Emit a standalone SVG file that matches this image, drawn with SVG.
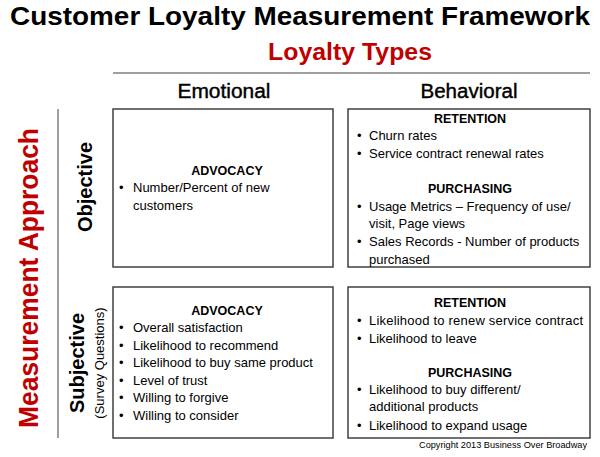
<svg xmlns="http://www.w3.org/2000/svg" width="600" height="457" viewBox="0 0 600 457">
<style>
text{font-family:"Liberation Sans",Arial,sans-serif;fill:#000}
.title{font-size:26px;font-weight:bold}
.red{fill:#c00000;font-weight:bold}
.col{font-size:20px;stroke:#000;stroke-width:0.4}
.side{font-size:20px;font-weight:bold}
.box{fill:#fff;stroke:#404040;stroke-width:1.5}
.h{font-size:12.5px;font-weight:bold;text-anchor:middle}
.t{font-size:13px}
.rule{stroke:#7f7f7f;stroke-width:1.5}
</style>
<rect width="600" height="457" fill="#fff"/>
<text class="title" x="300" y="25" text-anchor="middle" textLength="580" lengthAdjust="spacingAndGlyphs">Customer Loyalty Measurement Framework</text>
<text class="red" x="350" y="60" font-size="24" text-anchor="middle" textLength="164" lengthAdjust="spacingAndGlyphs">Loyalty Types</text>
<g id="connectors">
<line class="rule" x1="113" y1="73" x2="590" y2="73"/>
<line class="rule" x1="58" y1="109" x2="58" y2="438" stroke="#404040"/>
</g>
<text class="col" x="224" y="98" text-anchor="middle" textLength="93" lengthAdjust="spacingAndGlyphs">Emotional</text>
<text class="col" x="469" y="98" text-anchor="middle" textLength="97" lengthAdjust="spacingAndGlyphs">Behavioral</text>
<text class="red" font-size="28" transform="translate(38,278) rotate(-90)" text-anchor="middle" textLength="300" lengthAdjust="spacingAndGlyphs">Measurement Approach</text>
<text class="side" transform="translate(92,187) rotate(-90)" text-anchor="middle">Objective</text>
<text class="side" transform="translate(84,363) rotate(-90)" text-anchor="middle">Subjective</text>
<text font-size="13" transform="translate(104,363) rotate(-90)" text-anchor="middle">(Survey Questions)</text>
<g id="obj-emotional">
<rect class="box" x="113" y="109" width="220" height="158"/>
<text class="h" x="227" y="175">ADVOCACY</text>
<text class="t" x="119" y="192">•</text>
<text class="t" x="133" y="192">Number/Percent of new</text>
<text class="t" x="133" y="210">customers</text>
</g>
<g id="obj-behavioral">
<rect class="box" x="348" y="109" width="242" height="158"/>
<text class="h" x="470" y="123">RETENTION</text>
<text class="t" x="357" y="140">•</text><text class="t" x="369" y="140">Churn rates</text>
<text class="t" x="357" y="158">•</text><text class="t" x="369" y="158">Service contract renewal rates</text>
<text class="h" x="470" y="193">PURCHASING</text>
<text class="t" x="357" y="211">•</text><text class="t" x="369" y="211">Usage Metrics – Frequency of use/</text>
<text class="t" x="369" y="228">visit, Page views</text>
<text class="t" x="357" y="246">•</text><text class="t" x="369" y="246">Sales Records - Number of products</text>
<text class="t" x="369" y="264">purchased</text>
</g>
<g id="subj-emotional">
<rect class="box" x="113" y="287" width="220" height="151"/>
<text class="h" x="227" y="315">ADVOCACY</text>
<text class="t" x="119" y="332">•</text><text class="t" x="133" y="332">Overall satisfaction</text>
<text class="t" x="119" y="349.5">•</text><text class="t" x="133" y="349.5">Likelihood to recommend</text>
<text class="t" x="119" y="367">•</text><text class="t" x="133" y="367">Likelihood to buy same product</text>
<text class="t" x="119" y="384.5">•</text><text class="t" x="133" y="384.5">Level of trust</text>
<text class="t" x="119" y="402">•</text><text class="t" x="133" y="402">Willing to forgive</text>
<text class="t" x="119" y="420">•</text><text class="t" x="133" y="420">Willing to consider</text>
</g>
<g id="subj-behavioral">
<rect class="box" x="348" y="287" width="242" height="151"/>
<text class="h" x="470" y="307">RETENTION</text>
<text class="t" x="357" y="325">•</text><text class="t" x="369" y="325" textLength="214" lengthAdjust="spacing">Likelihood to renew service contract</text>
<text class="t" x="357" y="343">•</text><text class="t" x="369" y="343">Likelihood to leave</text>
<text class="h" x="470" y="377">PURCHASING</text>
<text class="t" x="357" y="394">•</text><text class="t" x="369" y="394">Likelihood to buy different/</text>
<text class="t" x="369" y="411">additional products</text>
<text class="t" x="357" y="430">•</text><text class="t" x="369" y="430">Likelihood to expand usage</text>
</g>
<text x="587" y="448" font-size="9.5" text-anchor="end" textLength="168" lengthAdjust="spacingAndGlyphs">Copyright 2013 Business Over Broadway</text>
</svg>
